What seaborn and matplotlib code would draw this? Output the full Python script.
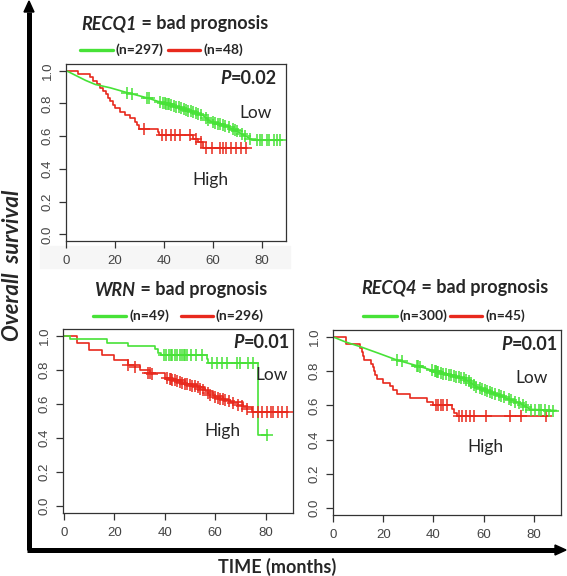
import numpy as np
import pandas as pd
import matplotlib
matplotlib.use("Agg")
import matplotlib.pyplot as plt
from matplotlib.lines import Line2D
from matplotlib.patches import Rectangle
import seaborn as sns

# ---- data (time in months, survival fraction) ----
# RECQ1 panel
recq1_low_t = [0, 4, 8, 12, 18, 25, 33, 40, 46.5, 53, 56, 59, 65.5, 71, 74.5, 76.5, 88]
recq1_low_s = [1.0, 0.97, 0.94, 0.915, 0.895, 0.865, 0.834, 0.80, 0.772, 0.742, 0.725, 0.69, 0.66, 0.62, 0.59, 0.575, 0.575]
recq1_high_t = [0, 5, 10, 11, 12.5, 14, 15, 16.5, 17, 18, 19, 20, 22, 24, 26, 28, 29, 30, 37.5, 38, 52, 54, 56, 74]
recq1_high_s = [1.0, 0.979, 0.958, 0.938, 0.917, 0.896, 0.875, 0.854, 0.833, 0.813, 0.792, 0.771, 0.75, 0.729,
                0.708, 0.688, 0.667, 0.646, 0.625, 0.604, 0.583, 0.562, 0.528, 0.528]
recq1_low_cens_t = [25, 27, 33, 34, 38.5, 39.5, 40.5, 41, 41.5, 42, 43, 44, 45, 46, 47, 48, 49, 50, 51, 52, 53, 54, 55,
                    57, 58, 60, 61, 62, 63, 64, 65, 66.5, 68, 69, 70, 72, 73, 75, 78, 79, 80, 82, 83, 85, 86, 87.5]
recq1_low_cens_s = [0.865, 0.858, 0.834, 0.83, 0.807, 0.803, 0.80, 0.797, 0.795, 0.793, 0.788, 0.784, 0.779, 0.775,
                    0.77, 0.765, 0.76, 0.756, 0.751, 0.747, 0.742, 0.737, 0.73, 0.71, 0.70, 0.685, 0.68, 0.675, 0.672,
                    0.668, 0.663, 0.655, 0.645, 0.637, 0.63, 0.61, 0.60, 0.585, 0.575, 0.575, 0.575, 0.575, 0.575,
                    0.575, 0.575, 0.575]
recq1_high_cens_t = [32, 39, 41, 43, 44.5, 46.5, 50.5, 53, 55, 57, 59.5, 63, 64, 65.5, 67.5, 69.5, 71.5, 73.5]
recq1_high_cens_s = [0.646, 0.604, 0.604, 0.604, 0.604, 0.604, 0.604, 0.583, 0.562, 0.528, 0.528, 0.528, 0.528,
                     0.528, 0.528, 0.528, 0.528, 0.528]

# WRN panel
wrn_low_t = [0, 2.5, 17, 25.5, 36, 37.5, 38.7, 56.6, 57.3, 77, 80.5]
wrn_low_s = [1.0, 0.98, 0.96, 0.94, 0.92, 0.90, 0.885, 0.862, 0.838, 0.418, 0.418]
wrn_high_t = [0, 5, 10, 15, 20, 25.5, 30, 34, 40, 43.4, 48, 52.7, 56, 59.3, 63, 66, 71, 74.5, 89]
wrn_high_s = [1.0, 0.955, 0.915, 0.885, 0.857, 0.829, 0.80, 0.78, 0.755, 0.741, 0.72, 0.70, 0.675, 0.645, 0.625,
              0.614, 0.584, 0.555, 0.555]
wrn_low_cens_t = [39.5, 40.5, 41.5, 42.5, 43, 44, 45, 46, 47, 47.5, 48, 49, 50.3, 52.3, 54.9,
                  58.7, 60.7, 62.7, 64.7, 68.6, 69.9, 73.2, 75.2, 80.4]
wrn_low_cens_s = [0.885] * 15 + [0.838] * 8 + [0.418]
wrn_high_cens_t = [25.5, 28, 33.5, 34.2, 35, 41, 42, 42.5, 43, 44, 45, 46, 47, 48, 49, 50, 51, 52, 53, 54, 55, 57, 58,
                   60, 61, 62, 63, 64, 65.5, 67, 69, 70.5, 72.5, 75, 77, 78.5, 80.5, 82, 83, 85, 86.5, 88.5]
wrn_high_cens_s = [0.829, 0.815, 0.783, 0.78, 0.776, 0.75, 0.746, 0.744, 0.742, 0.738, 0.733, 0.729, 0.725, 0.72,
                   0.716, 0.712, 0.708, 0.703, 0.698, 0.69, 0.683, 0.665, 0.655, 0.64, 0.636, 0.632, 0.627, 0.622,
                   0.616, 0.608, 0.596, 0.588, 0.57, 0.555, 0.555, 0.555, 0.555, 0.555, 0.555, 0.555, 0.555, 0.555]

# RECQ4 panel
recq4_low_t = [0, 5, 10.8, 18, 25.4, 34.7, 41.3, 46, 51.9, 54, 57.2, 62.5, 69.2, 74.5, 78.5, 89]
recq4_low_s = [1.0, 0.97, 0.943, 0.905, 0.865, 0.826, 0.797, 0.78, 0.758, 0.74, 0.709, 0.68, 0.641, 0.612, 0.577, 0.57]
recq4_high_t = [0, 5, 10.8, 11.5, 12, 12.5, 15, 15.8, 16.2, 16.8, 17.4, 20, 22.7, 24, 25.4, 30.7, 37.3, 40, 47.3,
                48.3, 49.3, 85.8]
recq4_high_s = [1.0, 0.956, 0.933, 0.911, 0.889, 0.867, 0.844, 0.822, 0.80, 0.778, 0.756, 0.733, 0.711, 0.689, 0.667,
                0.644, 0.622, 0.60, 0.578, 0.556, 0.538, 0.538]
recq4_low_cens_t = [25.4, 27.4, 33.3, 34, 34.7, 39.5, 40.5, 41, 41.5, 42, 43, 44, 45, 46, 47, 48, 49, 50, 51, 52, 53,
                    54, 55, 56, 57, 58.5, 59.5, 60.5, 61.5, 62.5, 63.5, 64.5, 66, 67, 68, 70, 71, 72.5, 74, 75.5, 77,
                    79, 80.5, 82, 83, 84.5, 86, 87.5]
recq4_low_cens_s = [0.865, 0.858, 0.83, 0.828, 0.826, 0.805, 0.80, 0.798, 0.796, 0.794, 0.79, 0.786, 0.783, 0.78,
                    0.776, 0.772, 0.768, 0.765, 0.761, 0.757, 0.75, 0.74, 0.73, 0.72, 0.71, 0.70, 0.695, 0.69, 0.685,
                    0.68, 0.675, 0.668, 0.66, 0.652, 0.647, 0.635, 0.63, 0.622, 0.614, 0.60, 0.59, 0.575, 0.573,
                    0.572, 0.572, 0.571, 0.57, 0.57]
recq4_high_cens_t = [41, 42, 43, 44, 45.5, 50, 51.5, 53, 54.5, 56, 61, 70.5, 75, 85]
recq4_high_cens_s = [0.60, 0.60, 0.60, 0.60, 0.60, 0.538, 0.538, 0.538, 0.538, 0.538, 0.538, 0.538, 0.538, 0.538]

x_ticks = [0, 20, 40, 60, 80]
y_ticks = [0.0, 0.2, 0.4, 0.6, 0.8, 1.0]

GREEN = "#47e237"
RED = "#e8291d"
W, H = 567, 576


def fx(x):
    return x / W


def fy(y):
    return 1 - y / H


sns.set_theme(style="white")
plt.rcParams["font.family"] = ["Liberation Sans", "DejaVu Sans"]
TFONT = ["Lato", "DejaVu Sans"]

fig = plt.figure(figsize=(W / 100, H / 100), dpi=100)
renderer = fig.canvas.get_renderer()

# faint grey strip behind the top panel's x tick labels (scan artefact)
fig.add_artist(Rectangle((fx(40), fy(268)), fx(250), 22 / H, color="#f6f6f6", zorder=0))


def km_panel(box, xlim, low, high, low_step):
    ax = fig.add_axes([fx(box[0]), fy(box[3]), fx(box[2] - box[0]), (box[3] - box[1]) / H])
    ax.set_facecolor("white")
    for (t, s, ct, cs, col, step) in [high + (RED, True), low + (GREEN, low_step)]:
        df = pd.DataFrame({"t": t, "s": s})
        sns.lineplot(data=df, x="t", y="s", ax=ax, color=col, lw=1.2, estimator=None, sort=False,
                     drawstyle="steps-post" if step else "default")
        cdf = pd.DataFrame({"t": ct, "s": cs})
        sns.scatterplot(data=cdf, x="t", y="s", ax=ax, marker="+", color=col, s=70, linewidth=1.1, zorder=3)
    ax.set_xlim(*xlim)
    ax.set_ylim(-0.04, 1.04)
    ax.set_xticks(x_ticks)
    ax.set_yticks(y_ticks)
    ax.set_yticklabels([f"{v:.1f}" for v in y_ticks], rotation=90, va="center")
    ax.set_xlabel("")
    ax.set_ylabel("")
    ax.tick_params(axis="both", direction="out", length=5, width=0.9, color="#333333",
                   labelsize=9.5, labelcolor="#444444", left=True, bottom=True)
    ax.tick_params(axis="x", pad=5)
    ax.tick_params(axis="y", pad=4)
    for sp in ax.spines.values():
        sp.set_color("#333333")
        sp.set_linewidth(0.9)
    return ax


km_panel((66, 64, 286, 241), (0, 89.8),
         (recq1_low_t, recq1_low_s, recq1_low_cens_t, recq1_low_cens_s),
         (recq1_high_t, recq1_high_s, recq1_high_cens_t, recq1_high_cens_s), False)
km_panel((63, 329, 293, 513), (-0.4, 90.9),
         (wrn_low_t, wrn_low_s, wrn_low_cens_t, wrn_low_cens_s),
         (wrn_high_t, wrn_high_s, wrn_high_cens_t, wrn_high_cens_s), True)
km_panel((333, 330, 561, 515), (0, 90.8),
         (recq4_low_t, recq4_low_s, recq4_low_cens_t, recq4_low_cens_s),
         (recq4_high_t, recq4_high_s, recq4_high_cens_t, recq4_high_cens_s), False)


def split_text(xs, y, left, right, size):
    fig.text(fx(xs), fy(y), left, ha="right", va="center", fontsize=size, fontweight="bold",
             fontstyle="italic", family=TFONT)
    fig.text(fx(xs), fy(y), right, ha="left", va="center", fontsize=size, fontweight="bold", family=TFONT)


def right_p(x_right, y, value, size):
    t = fig.text(fx(x_right), fy(y), value, ha="right", va="center", fontsize=size, fontweight="bold",
                 family=TFONT)
    w = t.get_window_extent(renderer=renderer).width
    fig.text(fx(x_right - w), fy(y), "P", ha="right", va="center", fontsize=size, fontweight="bold",
             fontstyle="italic", family=TFONT)


# titles
split_text(137, 24, "RECQ1", " = bad prognosis", 13)
split_text(136, 290, "WRN", " = bad prognosis", 13)
split_text(417, 288, "RECQ4", " = bad prognosis", 13)

# legends
legend_items = [
    (50, (80, 113, "(n=297)"), (168, 200, "(n=48)")),
    (316, (93, 126, "(n=49)"), (181, 213, "(n=296)")),
    (316, (363, 397, "(n=300)"), (450, 482, "(n=45)")),
]
for y, g, r in legend_items:
    for (x0, x1, lab), col in [(g, GREEN), (r, RED)]:
        fig.add_artist(Line2D([fx(x0), fx(x1)], [fy(y), fy(y)], color=col, lw=2.4))
        fig.text(fx(x1 + 3), fy(y), lab, ha="left", va="center", fontsize=10, fontweight="bold", family=TFONT)

# p values
right_p(277, 78, "=0.02", 13)
right_p(290, 343, "=0.01", 13)
right_p(558, 345, "=0.01", 13)

# group labels
for x, y, lab in [(256, 113, "Low"), (210, 180, "High"), (272, 375, "Low"), (222, 431, "High"),
                  (532, 378, "Low"), (485, 447, "High")]:
    fig.text(fx(x), fy(y), lab, ha="center", va="center", fontsize=12.5, family=TFONT)

# big axis arrows
fig.add_artist(Line2D([fx(29), fx(29)], [fy(550), fy(12)], color="black", lw=3.6, solid_capstyle="butt"))
fig.add_artist(Line2D([fx(27), fx(556)], [fy(550), fy(550)], color="black", lw=3.6, solid_capstyle="butt"))
fig.patches.append(plt.Polygon([[fx(24), fy(12)], [fx(34), fy(12)], [fx(29), fy(1)]], closed=True,
                               color="black", transform=fig.transFigure, figure=fig))
fig.patches.append(plt.Polygon([[fx(555), fy(545)], [fx(555), fy(555)], [fx(566), fy(550)]], closed=True,
                               color="black", transform=fig.transFigure, figure=fig))

fig.text(fx(13), fy(265), "Overall  survival", rotation=90, ha="center", va="center", fontsize=16,
         fontweight="bold", fontstyle="italic", family=TFONT)
fig.text(fx(277), fy(567), "TIME (months)", ha="center", va="center", fontsize=13, fontweight="bold",
         family=TFONT)

fig.savefig("out.png", dpi=100, facecolor="white")
